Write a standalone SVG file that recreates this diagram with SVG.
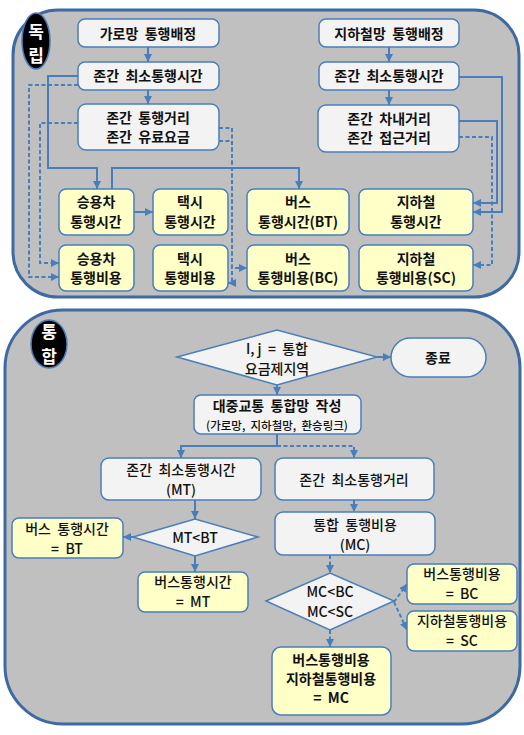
<svg xmlns="http://www.w3.org/2000/svg" width="524" height="735" viewBox="0 0 524 735">
<defs>
<style>
.panel{fill:#c0c0c0;stroke:#3d6aa3;stroke-width:3}
.w{fill:#f3f3f3;stroke:#4a7ebb;stroke-width:1.5}
.y{fill:#ffffc8;stroke:#4a7ebb;stroke-width:1.5}
.badge{fill:#000;stroke:#4a7ebb;stroke-width:1.5}
text{font-family:"Noto Sans CJK KR","Noto Sans",sans-serif;text-anchor:middle;fill:#111;white-space:pre}
.t{font-size:14px;font-weight:700}
.b{font-size:14px;font-weight:500}
.bb{font-size:14px;font-weight:700}
.s{font-size:11.5px;font-weight:500}
.bt{font-size:17px;font-weight:700;fill:#fff}
.c{fill:none;stroke:#4a7ebb;stroke-width:2}
.d{fill:none;stroke:#4a7ebb;stroke-width:2;stroke-dasharray:4 2.5}
</style>
<marker id="a" markerUnits="userSpaceOnUse" markerWidth="8" markerHeight="8" refX="8" refY="4" orient="auto">
<path d="M0,0 L8,4 L0,8 z" fill="#4a7ebb"/>
</marker>
</defs>

<rect class="panel" x="13" y="10" width="506" height="287" rx="45"/>
<rect class="panel" x="5" y="310" width="515" height="414" rx="58"/>

<g id="badge-top"><ellipse class="badge" cx="36" cy="41" rx="14" ry="28"/><text class="bt" x="36" y="38">독</text><text class="bt" x="36" y="62">립</text></g>
<g id="badge-bottom"><ellipse class="badge" cx="49" cy="344" rx="18" ry="24"/><text class="bt" x="49" y="338">통</text><text class="bt" x="49" y="363">합</text></g>

<g id="connectors">
<path class="c" d="M148,47 V62" marker-end="url(#a)"/>
<path class="c" d="M148,90 V104" marker-end="url(#a)"/>
<path class="c" d="M389,47 V62" marker-end="url(#a)"/>
<path class="c" d="M389,90 V105" marker-end="url(#a)"/>
<path class="c" d="M78,76 H48 V168 H97 V189" marker-end="url(#a)"/>
<path class="d" d="M78,85 H29 V277 H59" marker-end="url(#a)"/>
<path class="d" d="M78,123 H40 V263 H59" marker-end="url(#a)"/>
<path class="c" d="M112,189 V168 H299 V189" marker-end="url(#a)"/>
<path class="c" d="M134,212 H153" marker-end="url(#a)"/>
<path class="d" d="M219,128 H232 V268 H247" marker-end="url(#a)"/>
<path class="d" d="M219,141 H232 V283 H228" marker-end="url(#a)"/>
<path class="c" d="M459,77 H502 V212 H473" marker-end="url(#a)"/>
<path class="c" d="M459,121 H497 V203 H473" marker-end="url(#a)"/>
<path class="d" d="M459,137 H492 V265 H473" marker-end="url(#a)"/>

<path class="c" d="M377,357 H391" marker-end="url(#a)"/>
<path class="c" d="M277,385 V395" marker-end="url(#a)"/>
<path class="c" d="M277,434 V446 H181 V458" marker-end="url(#a)"/>
<path class="d" d="M277,446 H354 V458" marker-end="url(#a)"/>
<path class="c" d="M195,500 V519" marker-end="url(#a)"/>
<path class="c" d="M133,537 H123" marker-end="url(#a)"/>
<path class="c" d="M195,556 V572" marker-end="url(#a)"/>
<path class="d" d="M354,500 V512" marker-end="url(#a)"/>
<path class="d" d="M330,555 V573" marker-end="url(#a)"/>
<path class="d" d="M394,602 L407,584" marker-end="url(#a)"/>
<path class="d" d="M394,602 L407,630" marker-end="url(#a)"/>
<path class="d" d="M330,630 V647" marker-end="url(#a)"/>
</g>

<g id="road-assign"><rect class="w" x="78" y="19" width="141" height="28" rx="7"/><text class="t" x="148" y="39">가로망  통행배정</text></g>
<g id="road-mintime"><rect class="w" x="78" y="62" width="141" height="28" rx="7"/><text class="t" x="148" y="81">존간  최소통행시간</text></g>
<g id="road-dist"><rect class="w" x="78" y="104" width="141" height="46" rx="8"/><text class="t" x="148" y="123">존간  통행거리</text><text class="t" x="148" y="142">존간  유료요금</text></g>
<g id="sub-assign"><rect class="w" x="319" y="19" width="140" height="28" rx="7"/><text class="t" x="389" y="39">지하철망  통행배정</text></g>
<g id="sub-mintime"><rect class="w" x="319" y="62" width="140" height="28" rx="7"/><text class="t" x="389" y="81">존간  최소통행시간</text></g>
<g id="sub-dist"><rect class="w" x="318" y="105" width="141" height="47" rx="8"/><text class="t" x="389" y="124">존간  차내거리</text><text class="t" x="389" y="143">존간  접근거리</text></g>

<g id="car-time"><rect class="y" x="59" y="189" width="75" height="46" rx="7"/><text class="t" x="96" y="207">승용차</text><text class="t" x="96" y="227">통행시간</text></g>
<g id="taxi-time"><rect class="y" x="153" y="189" width="75" height="46" rx="7"/><text class="t" x="190" y="207">택시</text><text class="t" x="190" y="227">통행시간</text></g>
<g id="bus-time"><rect class="y" x="247" y="189" width="102" height="46" rx="7"/><text class="t" x="298" y="207">버스</text><text class="t" x="298" y="227">통행시간(BT)</text></g>
<g id="subway-time"><rect class="y" x="359" y="189" width="114" height="46" rx="7"/><text class="t" x="416" y="207">지하철</text><text class="t" x="416" y="227">통행시간</text></g>
<g id="car-cost"><rect class="y" x="59" y="245" width="75" height="46" rx="7"/><text class="t" x="96" y="264">승용차</text><text class="t" x="96" y="283">통행비용</text></g>
<g id="taxi-cost"><rect class="y" x="153" y="245" width="75" height="46" rx="7"/><text class="t" x="190" y="264">택시</text><text class="t" x="190" y="283">통행비용</text></g>
<g id="bus-cost"><rect class="y" x="247" y="245" width="102" height="46" rx="7"/><text class="t" x="298" y="264">버스</text><text class="t" x="298" y="283">통행비용(BC)</text></g>
<g id="subway-cost"><rect class="y" x="359" y="245" width="114" height="46" rx="7"/><text class="t" x="416" y="264">지하철</text><text class="t" x="416" y="283">통행비용(SC)</text></g>

<g id="zone-check"><polygon class="w" points="177,357 277,330 377,357 277,385"/><text class="b" x="277" y="354">I, j  =  통합</text><text class="b" x="277" y="374">요금제지역</text></g>
<g id="end"><rect class="w" x="391" y="338" width="95" height="39" rx="19.5"/><text class="bb" x="438" y="363">종료</text></g>
<g id="integrated-net"><rect class="w" x="194" y="395" width="167" height="39" rx="7"/><text class="bb" x="277" y="411">대중교통  통합망  작성</text><text class="s" x="277" y="430">(가로망,  지하철망,  환승링크)</text></g>
<g id="mt"><rect class="w" x="101" y="458" width="160" height="42" rx="8"/><text class="b" x="181" y="475">존간  최소통행시간</text><text class="b" x="181" y="495">(MT)</text></g>
<g id="min-dist"><rect class="w" x="275" y="458" width="159" height="42" rx="8"/><text class="b" x="354" y="485">존간  최소통행거리</text></g>
<g id="mt-bt"><polygon class="w" points="133,537 195,519 258,537 195,556"/><text class="b" x="195" y="543">MT&lt;BT</text></g>
<g id="bus-bt"><rect class="y" x="12" y="518" width="111" height="40" rx="7"/><text class="b" x="67" y="534">버스  통행시간</text><text class="b" x="67" y="554">=  BT</text></g>
<g id="bus-mt"><rect class="y" x="138" y="572" width="110" height="40" rx="7"/><text class="b" x="193" y="587">버스통행시간</text><text class="b" x="193" y="607">=  MT</text></g>
<g id="mc"><rect class="w" x="275" y="512" width="160" height="43" rx="8"/><text class="b" x="355" y="530">통합  통행비용</text><text class="b" x="355" y="550">(MC)</text></g>
<g id="mc-check"><polygon class="w" points="266,601 330,573 394,601 330,630"/><text class="b" x="330" y="597">MC&lt;BC</text><text class="b" x="330" y="617">MC&lt;SC</text></g>
<g id="bus-bc"><rect class="y" x="407" y="564" width="110" height="40" rx="7"/><text class="b" x="462" y="579">버스통행비용</text><text class="b" x="462" y="599">=  BC</text></g>
<g id="sub-sc"><rect class="y" x="407" y="611" width="110" height="40" rx="7"/><text class="b" x="462" y="626">지하철통행비용</text><text class="b" x="462" y="646">=  SC</text></g>
<g id="mc-result"><rect class="y" x="272" y="647" width="119" height="68" rx="9"/><text class="bb" x="331" y="665">버스통행비용</text><text class="bb" x="331" y="684">지하철통행비용</text><text class="bb" x="331" y="703">=  MC</text></g>
</svg>
